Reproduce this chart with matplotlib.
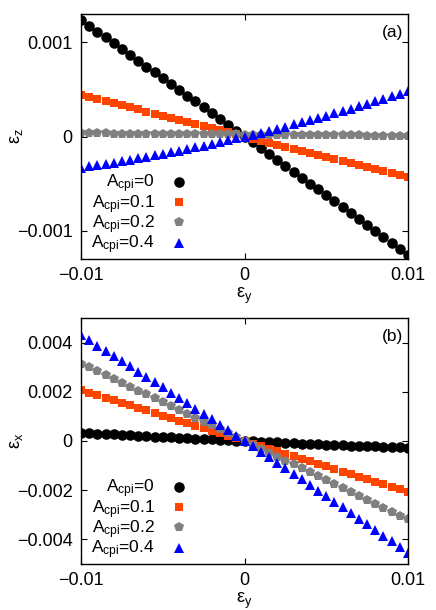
import matplotlib
matplotlib.use("Agg")
import matplotlib.pyplot as plt
import numpy as np

plt.rcParams['font.family'] = ['Liberation Sans', 'DejaVu Sans']
plt.rcParams['mathtext.fontset'] = 'custom'
plt.rcParams['mathtext.rm'] = 'Liberation Sans'
plt.rcParams['mathtext.it'] = 'Liberation Sans:italic'
plt.rcParams['font.size'] = 12

# strain eps_y (units of 1e-4)
eps_y = [-100, -95, -90, -85, -80, -75, -70, -65, -60, -55, -50, -45, -40, -35, -30,
         -25, -20, -15, -10, -5, 0, 5, 10, 15, 20, 25, 30, 35, 40, 45, 50, 55, 60,
         65, 70, 75, 80, 85, 90, 95, 100]

# Panel (a): eps_z (units of 1e-5)
ez_A0 = [123.5, 117.4, 111.2, 105.1, 99.0, 92.8, 86.7, 80.5, 74.3, 68.2, 62.0, 55.8,
         49.6, 43.5, 37.3, 31.1, 24.9, 18.7, 12.4, 6.2, 0.0, -6.2, -12.5, -18.7, -24.9,
         -31.2, -37.4, -43.7, -50.0, -56.2, -62.5, -68.8, -75.1, -81.3, -87.6, -93.9,
         -100.2, -106.5, -112.9, -119.2, -125.5]
ez_A01 = [44.5, 42.2, 40.0, 37.7, 35.4, 33.2, 30.9, 28.7, 26.5, 24.2, 22.0, 19.8, 17.6,
          15.3, 13.1, 10.9, 8.7, 6.5, 4.4, 2.2, 0.0, -2.2, -4.3, -6.5, -8.7, -10.8, -13.0,
          -15.1, -17.2, -19.4, -21.5, -23.6, -25.7, -27.9, -30.0, -32.1, -34.2, -36.3,
          -38.3, -40.4, -42.5]
ez_A02 = [3.5, 3.4, 3.4, 3.3, 3.2, 3.2, 3.1, 3.0, 2.9, 2.9, 2.8, 2.7, 2.7, 2.6, 2.5, 2.5,
          2.4, 2.3, 2.2, 2.2, 2.1, 2.0, 2.0, 1.9, 1.8, 1.8, 1.7, 1.6, 1.5, 1.5, 1.4, 1.3,
          1.3, 1.2, 1.1, 1.0, 1.0, 0.9, 0.8, 0.8, 0.7]
ez_A04 = [-33.0, -31.7, -30.4, -29.0, -27.6, -26.2, -24.7, -23.2, -21.6, -20.0, -18.4,
          -16.7, -15.0, -13.3, -11.5, -9.7, -7.8, -5.9, -4.0, -2.0, 0.0, 2.0, 4.1, 6.2,
          8.4, 10.6, 12.8, 15.1, 17.4, 19.7, 22.1, 24.5, 27.0, 29.5, 32.0, 34.6, 37.2,
          39.8, 42.5, 45.2, 48.0]

# Panel (b): eps_x (units of 1e-5)
ex_A0 = [34.0, 32.1, 30.3, 28.5, 26.6, 24.8, 23.1, 21.3, 19.6, 17.8, 16.1, 14.4, 12.8,
         11.1, 9.5, 7.8, 6.2, 4.7, 3.1, 1.5, 0.0, -1.5, -3.0, -4.5, -6.0, -7.4, -8.8,
         -10.2, -11.6, -13.0, -14.4, -15.7, -17.0, -18.3, -19.6, -20.9, -22.2, -23.4,
         -24.6, -25.8, -27.0]
ex_A01 = [207.0, 196.7, 186.3, 176.0, 165.6, 155.3, 144.9, 134.6, 124.2, 113.9, 103.5,
          93.2, 82.8, 72.5, 62.1, 51.8, 41.4, 31.1, 20.7, 10.4, 0.0, -10.4, -20.7, -31.1,
          -41.4, -51.8, -62.1, -72.5, -82.8, -93.2, -103.5, -113.9, -124.2, -134.6,
          -144.9, -155.3, -165.6, -176.0, -186.3, -196.7, -207.0]
ex_A02 = [315.0, 299.3, 283.7, 268.0, 252.3, 236.6, 220.9, 205.2, 189.5, 173.7, 158.0,
          142.2, 126.5, 110.7, 94.9, 79.1, 63.3, 47.5, 31.7, 15.8, 0.0, -15.9, -31.7,
          -47.6, -63.5, -79.4, -95.3, -111.2, -127.1, -143.1, -159.0, -175.0, -191.0,
          -206.9, -222.9, -238.9, -254.9, -270.9, -286.9, -303.0, -319.0]
ex_A04 = [430.0, 409.1, 388.1, 367.0, 345.9, 324.8, 303.5, 282.2, 260.9, 239.5, 218.0,
          196.5, 174.9, 153.2, 131.5, 109.8, 87.9, 66.0, 44.1, 22.1, 0.0, -22.1, -44.3,
          -66.6, -88.9, -111.3, -133.7, -156.2, -178.7, -201.3, -224.0, -246.7, -269.5,
          -292.4, -315.3, -338.3, -361.3, -384.4, -407.5, -430.7, -454.0]

labels = ["A$_{\\rm cpi}$=0", "A$_{\\rm cpi}$=0.1", "A$_{\\rm cpi}$=0.2", "A$_{\\rm cpi}$=0.4"]

xticks = [-0.01, 0.0, 0.01]
xticklabels = ["\u22120.01", "0", "0.01"]
yticks_a = [-0.001, 0.0, 0.001]
yticklabels_a = ["\u22120.001", "0", "0.001"]
yticks_b = [-0.004, -0.002, 0.0, 0.002, 0.004]
yticklabels_b = ["\u22120.004", "\u22120.002", "0", "0.002", "0.004"]

colors = ["black", "#ff4500", "#808080", "#0000ff"]
markers = ["o", "s", "p", "^"]
msizes = [7.6, 6.4, 7.6, 7.0]

fig = plt.figure(figsize=(4.36, 6.10), dpi=100)
ax_a = fig.add_axes([0.1858, 0.5754, 0.750, 0.4016])
ax_b = fig.add_axes([0.1858, 0.0754, 0.750, 0.4033])

x = np.array(eps_y) * 1e-4

def draw(ax, series, yticks, yticklabels, ylim, ylabel, tag):
    for s, c, m, ms, lab in zip(series, colors, markers, msizes, labels):
        ax.plot(x, np.array(s) * 1e-5, linestyle='none', marker=m, color=c,
                markersize=ms, markeredgewidth=0, label=lab)
    ax.set_xlim(-0.01, 0.01)
    ax.set_ylim(*ylim)
    ax.set_xticks(xticks)
    ax.set_xticklabels(xticklabels)
    ax.set_yticks(yticks)
    ax.set_yticklabels(yticklabels)
    ax.tick_params(direction='in', length=4, width=0.8, top=True, right=True,
                   labelsize=13, pad=6)
    for sp in ax.spines.values():
        sp.set_linewidth(1.0)
    ax.set_xlabel("\u03b5$_{\\rm y}$", fontsize=13, labelpad=1)
    ax.set_ylabel(ylabel, fontsize=13)
    ax.yaxis.set_label_coords(-0.17, 0.5)
    ax.text(0.985, 0.955, tag, transform=ax.transAxes, ha='right', va='top', fontsize=12.5)
    leg = ax.legend(loc='lower left', bbox_to_anchor=(0.024, 0.0), frameon=False,
                    markerfirst=False, numpoints=1, handlelength=1.2,
                    handletextpad=0.8, labelspacing=-0.13, borderpad=0.0,
                    borderaxespad=0.15, fontsize=12.5)
    return leg

draw(ax_a, [ez_A0, ez_A01, ez_A02, ez_A04], yticks_a, yticklabels_a,
     (-0.0013, 0.0013), "\u03b5$_{\\rm z}$", "(a)")
draw(ax_b, [ex_A0, ex_A01, ex_A02, ex_A04], yticks_b, yticklabels_b,
     (-0.005, 0.005), "\u03b5$_{\\rm x}$", "(b)")

fig.savefig("out.png", dpi=100)
